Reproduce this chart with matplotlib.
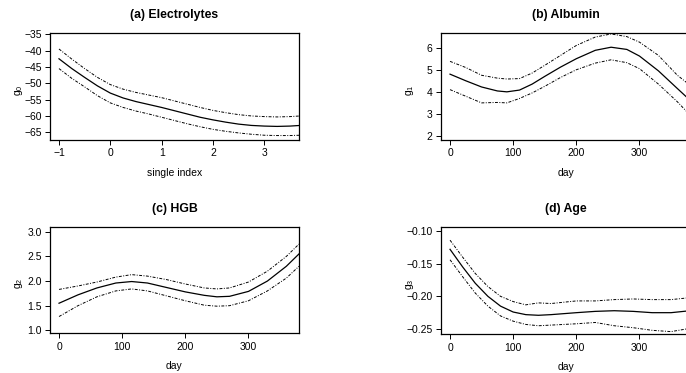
import matplotlib
matplotlib.use("Agg")
import matplotlib.pyplot as plt

plt.rcParams["font.family"] = ["Liberation Sans", "DejaVu Sans"]
plt.rcParams["mathtext.fontset"] = "custom"
plt.rcParams["mathtext.rm"] = "Liberation Sans"

# (a) Electrolytes
a_x = [-1.0, -0.75, -0.5, -0.25, 0.0, 0.25, 0.5, 0.75, 1.0, 1.25, 1.5, 1.75, 2.0, 2.25, 2.5, 2.75, 3.0, 3.25, 3.5, 3.7]
a_mid = [-42.5, -45.5, -48.2, -50.8, -53.0, -54.5, -55.6, -56.5, -57.4, -58.4, -59.4, -60.4, -61.2, -61.9, -62.5, -62.9, -63.1, -63.2, -63.1, -62.9]
a_upp = [-39.5, -42.6, -45.5, -48.2, -50.4, -51.8, -52.8, -53.6, -54.4, -55.4, -56.4, -57.4, -58.3, -59.0, -59.6, -60.0, -60.2, -60.3, -60.2, -60.0]
a_low = [-45.5, -48.5, -51.1, -53.8, -56.0, -57.4, -58.5, -59.4, -60.4, -61.4, -62.4, -63.3, -64.1, -64.7, -65.2, -65.6, -65.9, -66.0, -66.0, -65.9]

# (b) Albumin
b_x = [0, 25, 50, 75, 90, 110, 130, 150, 175, 200, 230, 255, 280, 300, 330, 360, 380]
b_mid = [4.8, 4.5, 4.22, 4.04, 4.0, 4.08, 4.35, 4.7, 5.12, 5.5, 5.88, 6.02, 5.92, 5.62, 4.95, 4.15, 3.62]
b_upp = [5.38, 5.1, 4.75, 4.62, 4.58, 4.6, 4.85, 5.2, 5.65, 6.1, 6.48, 6.62, 6.5, 6.25, 5.65, 4.75, 4.3]
b_low = [4.1, 3.8, 3.5, 3.52, 3.5, 3.7, 3.95, 4.25, 4.65, 5.0, 5.3, 5.45, 5.32, 5.05, 4.35, 3.55, 2.95]

# (c) HGB
c_x = [0, 30, 60, 90, 115, 140, 170, 200, 230, 250, 270, 300, 330, 360, 380]
c_mid = [1.55, 1.72, 1.86, 1.96, 1.99, 1.96, 1.87, 1.78, 1.71, 1.68, 1.69, 1.79, 2.0, 2.3, 2.55]
c_upp = [1.83, 1.9, 1.98, 2.08, 2.13, 2.1, 2.03, 1.94, 1.86, 1.84, 1.86, 1.98, 2.2, 2.5, 2.75]
c_low = [1.28, 1.5, 1.68, 1.8, 1.84, 1.8, 1.7, 1.6, 1.51, 1.49, 1.5, 1.6, 1.8, 2.06, 2.3]

# (d) Age
d_x = [0, 20, 40, 60, 80, 100, 120, 140, 160, 200, 230, 260, 290, 320, 350, 380]
d_mid = [-0.128, -0.155, -0.18, -0.2, -0.215, -0.224, -0.228, -0.229, -0.228, -0.225, -0.223, -0.222, -0.223, -0.225, -0.225, -0.222]
d_upp = [-0.114, -0.14, -0.165, -0.185, -0.2, -0.208, -0.213, -0.21, -0.211, -0.207, -0.207, -0.205, -0.204, -0.205, -0.205, -0.202]
d_low = [-0.144, -0.17, -0.195, -0.215, -0.23, -0.238, -0.243, -0.245, -0.244, -0.242, -0.24, -0.245, -0.248, -0.252, -0.254, -0.249]

W, H = 686, 373
fig = plt.figure(figsize=(W / 100, H / 100), dpi=100)


def add_panel(px, title, xs, mid, upp, low, xlim, ylim, xticks, yticks, ylab, xlab, yfmt):
    l, t, r, b = px
    ax = fig.add_axes([l / W, (H - b) / H, (r - l) / W, (b - t) / H])
    ax.plot(xs, mid, color="black", lw=0.9)
    ax.plot(xs, upp, color="black", lw=0.7, ls=(0, (3, 1.5, 1, 1.5)))
    ax.plot(xs, low, color="black", lw=0.7, ls=(0, (3, 1.5, 1, 1.5)))
    ax.set_xlim(xlim)
    ax.set_ylim(ylim)
    ax.set_xticks(xticks)
    ax.set_yticks(yticks)
    ax.set_yticklabels([yfmt(v).replace("-", "\u2212") for v in yticks])
    ax.set_xticklabels([str(v).replace("-", "\u2212") for v in xticks])
    ax.tick_params(direction="out", length=3.5, width=0.7, labelsize=7.5, pad=2.5)
    for s in ax.spines.values():
        s.set_linewidth(0.9)
    ax.set_title(title, fontsize=8.8, fontweight="bold", pad=11)
    ax.set_xlabel(xlab, fontsize=7.5, labelpad=7)
    ax.set_ylabel(ylab, fontsize=7.5)
    # R puts the y label at a fixed margin line, close to the tick labels
    ax.yaxis.set_label_coords(-25 / (r - l), 0.47)
    return ax


add_panel((50, 33.3, 299, 140), "(a) Electrolytes", a_x, a_mid, a_upp, a_low,
          (-1.175, 3.676), (-67.36, -34.7), [-1, 0, 1, 2, 3],
          [-65, -60, -55, -50, -45, -40, -35], r"$\mathregular{g_0}$", "single index",
          lambda v: "%d" % v)
add_panel((441, 33.3, 690, 140), "(b) Albumin", b_x, b_mid, b_upp, b_low,
          (-14.3, 380), (1.82, 6.65), [0, 100, 200, 300],
          [2, 3, 4, 5, 6], r"$\mathregular{g_1}$", "day", lambda v: "%d" % v)
add_panel((50, 227.3, 299, 333.3), "(c) HGB", c_x, c_mid, c_upp, c_low,
          (-14.3, 380), (0.94, 3.09), [0, 100, 200, 300],
          [1.0, 1.5, 2.0, 2.5, 3.0], r"$\mathregular{g_2}$", "day", lambda v: "%.1f" % v)
add_panel((441, 227.3, 690, 334.3), "(d) Age", d_x, d_mid, d_upp, d_low,
          (-14.3, 380), (-0.2581, -0.0943), [0, 100, 200, 300],
          [-0.25, -0.20, -0.15, -0.10], r"$\mathregular{g_3}$", "day", lambda v: "%.2f" % v)

fig.savefig("out.png", dpi=100)
